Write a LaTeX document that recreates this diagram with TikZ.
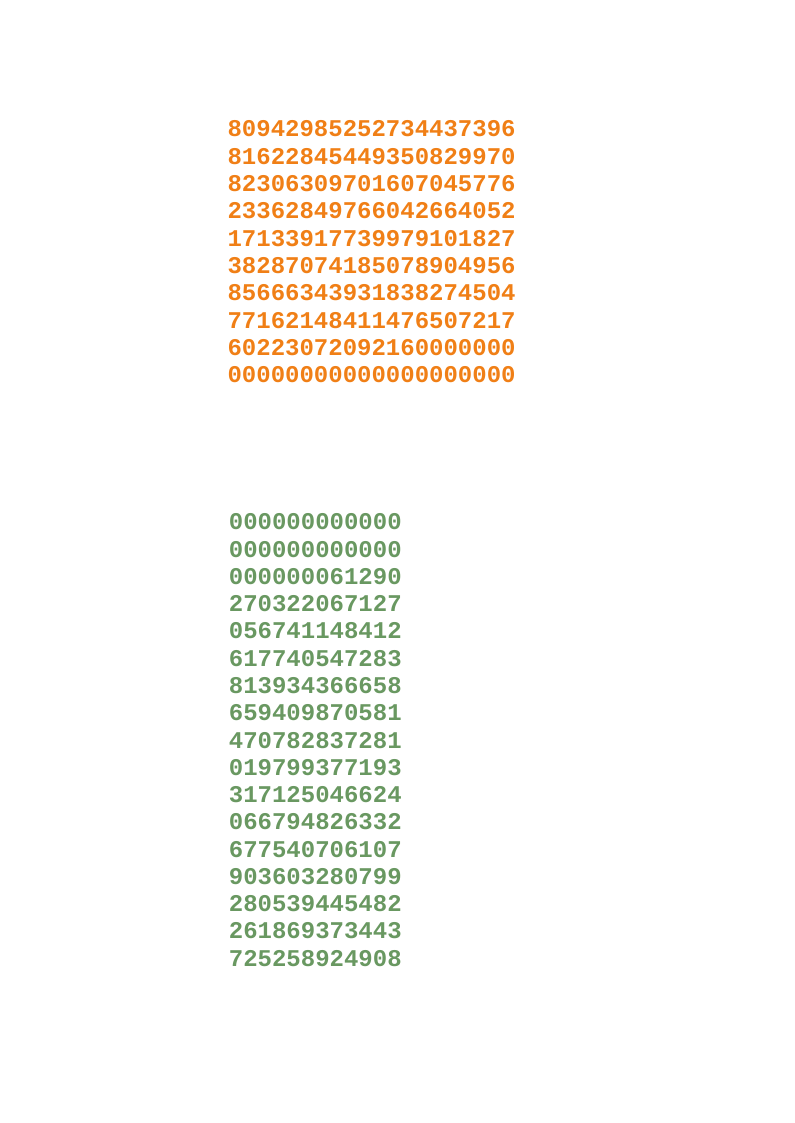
\documentclass[tikz,border=0pt]{standalone}
\usepackage{fontspec}
\newfontfamily\numfont{Liberation Mono}
\definecolor{orangetxt}{RGB}{240,127,22}
\definecolor{greentxt}{RGB}{105,152,97}
\begin{document}
\begin{tikzpicture}[x=0.75pt,y=-0.75pt]
\tikzset{
  orangeline/.style={anchor=base west, inner sep=0pt, text=orangetxt, font=\numfont\bfseries\fontsize{18}{20}\selectfont},
  greenline/.style={anchor=base west, inner sep=0pt, text=greentxt, font=\numfont\bfseries\fontsize{18}{20}\selectfont}
}
\useasboundingbox (0,0) rectangle (794,1123);
\foreach \t [count=\i] in {80942985252734437396,81622845449350829970,82306309701607045776,23362849766042664052,17133917739979101827,38287074185078904956,85666343931838274504,77162148411476507217,60223072092160000000,00000000000000000000}
  \node[orangeline] (o\i) at (227.3, {136.8+(\i-1)*27.35}) {\t};
\foreach \t [count=\i] in {000000000000,000000000000,000000061290,270322067127,056741148412,617740547283,813934366658,659409870581,470782837281,019799377193,317125046624,066794826332,677540706107,903603280799,280539445482,261869373443,725258924908}
  \node[greenline] (g\i) at (228.6, {529.9+(\i-1)*27.27}) {\t};
\end{tikzpicture}
\end{document}
